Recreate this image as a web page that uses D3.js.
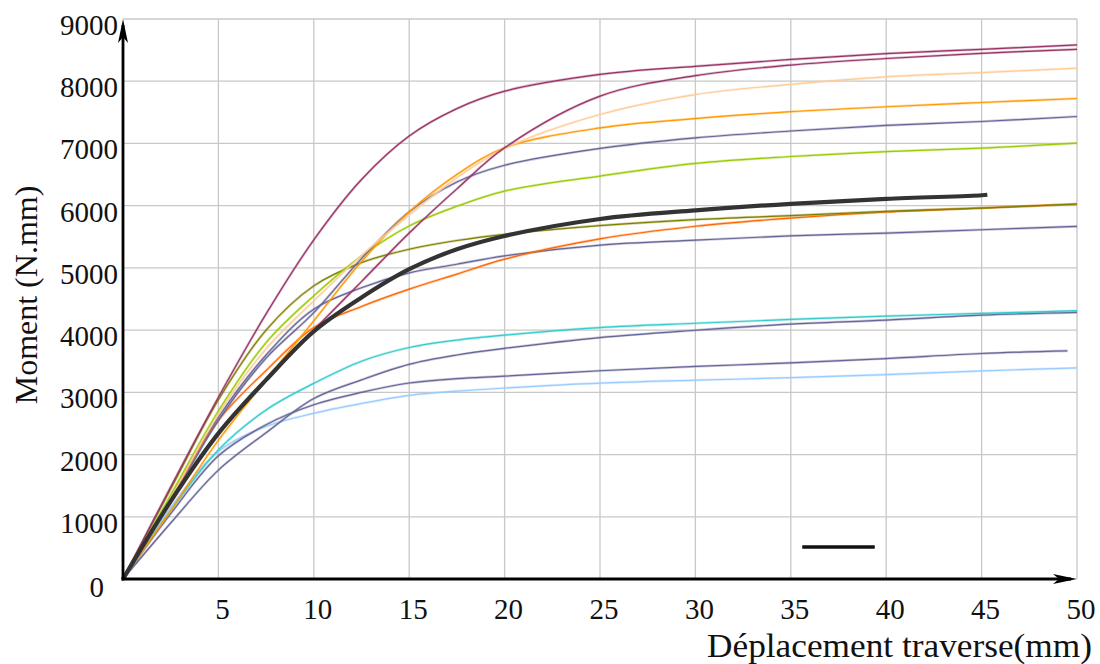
<!DOCTYPE html>
<html>
<head>
<meta charset="utf-8">
<script src="https://cdn.jsdelivr.net/npm/d3@7"></script>
<style>
  html, body { margin: 0; padding: 0; background: #fff; }
  svg { display: block; }
  text { font-family: "Liberation Serif", "DejaVu Serif", serif; fill: #111; }
</style>
</head>
<body>
<svg id="chart" width="1100" height="664"></svg>
<script>
// ---------- data ----------
const xTicks = [5, 10, 15, 20, 25, 30, 35, 40, 45, 50];
const yTicks = [0, 1000, 2000, 3000, 4000, 5000, 6000, 7000, 8000, 9000];
const xTitle = "Déplacement traverse(mm)";
const yTitle = "Moment (N.mm)";

const xs       = [0, 2.5, 5, 7.5, 10, 12.5, 15, 17.5, 20, 25, 30, 35, 40, 45, 50];
const xsMean   = [0, 2.5, 5, 7.5, 10, 12.5, 15, 17.5, 20, 25, 30, 35, 40, 45, 45.3];
const xsShort  = [0, 2.5, 5, 7.5, 10, 12.5, 15, 17.5, 20, 25, 30, 35, 40, 45, 49.5];

const magentaA  = [0, 1480, 2920, 4260, 5450, 6420, 7120, 7560, 7840, 8110, 8240, 8350, 8445, 8513, 8583];
const magentaB  = [0, 1250, 2350, 3200, 4000, 4780, 5560, 6270, 6930, 7760, 8090, 8260, 8365, 8449, 8513];
const peach     = [0, 1300, 2650, 3700, 4470, 5200, 5850, 6450, 6920, 7465, 7786, 7950, 8070, 8139, 8209];
const orange    = [0, 1100, 2230, 3200, 4150, 5100, 5900, 6500, 6930, 7250, 7400, 7510, 7590, 7658, 7722];
const slateE    = [0, 1250, 2550, 3550, 4280, 5150, 5900, 6380, 6650, 6920, 7090, 7200, 7290, 7353, 7433];
const yellowGr  = [0, 1350, 2700, 3800, 4550, 5190, 5674, 5990, 6235, 6476, 6679, 6790, 6870, 6925, 7005];
const olive     = [0, 1450, 2880, 4000, 4711, 5085, 5300, 5440, 5540, 5680, 5776, 5840, 5909, 5962, 6027];
const meanCurve = [0, 1250, 2340, 3200, 3980, 4524, 4979, 5299, 5513, 5786, 5925, 6030, 6108, 6167, 6176];
const orangeRed = [0, 1300, 2550, 3350, 4043, 4380, 4658, 4900, 5140, 5466, 5669, 5801, 5898, 5962, 6027];
const slateJ    = [0, 1300, 2600, 3600, 4337, 4680, 4920, 5059, 5193, 5365, 5445, 5516, 5559, 5613, 5667];
const cyan      = [0, 1100, 2075, 2717, 3144, 3500, 3720, 3840, 3920, 4041, 4110, 4172, 4226, 4269, 4312];
const slateL    = [0, 900, 1750, 2350, 2900, 3200, 3450, 3600, 3706, 3880, 3998, 4097, 4161, 4242, 4285];
const slateM    = [0, 1050, 1980, 2480, 2800, 3000, 3150, 3220, 3260, 3347, 3416, 3473, 3543, 3624, 3667];
const lightBlue = [0, 1150, 2050, 2450, 2663, 2820, 2950, 3020, 3070, 3149, 3195, 3235, 3285, 3344, 3392];

const legendX = [35.6, 39.4];
const legendY = 515;

// ---------- series table (built from arrays) ----------
const series = [
  { x: xs, y: lightBlue, color: "#99ccff" },
  { x: xsShort, y: slateM, color: "#666699" },
  { x: xs, y: slateL, color: "#666699" },
  { x: xs, y: cyan, color: "#33cccc" },
  { x: xs, y: slateJ, color: "#666699" },
  { x: xs, y: orangeRed, color: "#ff6600" },
  { x: xs, y: olive, color: "#808000" },
  { x: xs, y: yellowGr, color: "#99cc00" },
  { x: xs, y: slateE, color: "#666699" },
  { x: xs, y: orange, color: "#ff9900" },
  { x: xs, y: peach, color: "#ffcc99" },
  { x: xs, y: magentaB, color: "#993366" },
  { x: xs, y: magentaA, color: "#993366" }
];
const mean = { x: xsMean, y: meanCurve, color: "#333333" };

// ---------- drawing ----------
const svg = d3.select("#chart");
const x = d3.scaleLinear().domain([0, 50]).range([123, 1077]);
const y = d3.scaleLinear().domain([0, 9000]).range([579, 19]);

// grid
const grid = svg.append("g");
grid.selectAll("line.v").data(xTicks).enter().append("line")
  .attr("x1", d => x(d)).attr("x2", d => x(d))
  .attr("y1", y(0)).attr("y2", y(9000))
  .attr("stroke", "#c8c8c8").attr("stroke-width", 1.3);
grid.selectAll("line.h").data(yTicks.filter(d => d > 0)).enter().append("line")
  .attr("x1", x(0)).attr("x2", x(50))
  .attr("y1", d => y(d)).attr("y2", d => y(d))
  .attr("stroke", "#c8c8c8").attr("stroke-width", 1.3);

// lines
const line = d3.line().curve(d3.curveCatmullRom.alpha(0.5));
const toPts = s => s.x.map((v, i) => [x(v), y(s.y[i])]);
const lines = svg.append("g").attr("fill", "none");
series.forEach(s => {
  lines.append("path").attr("d", line(toPts(s)))
    .attr("stroke", s.color).attr("stroke-width", 2.6).attr("stroke-opacity", 0.35);
  lines.append("path").attr("d", line(toPts(s)))
    .attr("stroke", s.color).attr("stroke-width", 1.2);
});
lines.append("path").attr("d", line(toPts(mean)))
  .attr("stroke", mean.color).attr("stroke-width", 4.2).attr("stroke-linejoin", "round");

// legend sample
svg.append("line")
  .attr("x1", x(legendX[0])).attr("x2", x(legendX[1]))
  .attr("y1", y(legendY)).attr("y2", y(legendY))
  .attr("stroke", "#111").attr("stroke-width", 3.5);

// axes lines with arrowheads
const ax = svg.append("g");
ax.append("line").attr("x1", x(0)).attr("x2", x(0)).attr("y1", y(0) + 1.5).attr("y2", y(9000) + 6)
  .attr("stroke", "#000").attr("stroke-width", 2.8);
ax.append("line").attr("x1", x(0) - 1.5).attr("x2", x(50) - 6).attr("y1", y(0)).attr("y2", y(0))
  .attr("stroke", "#000").attr("stroke-width", 2.8);
const tipY = [x(0), y(9000)];
ax.append("path")
  .attr("d", `M${tipY[0]},${tipY[1]} L${tipY[0] + 5},${tipY[1] + 24} L${tipY[0]},${tipY[1] + 18} L${tipY[0] - 5},${tipY[1] + 24} Z`)
  .attr("fill", "#000");
const tipX = [x(50), y(0)];
ax.append("path")
  .attr("d", `M${tipX[0]},${tipX[1]} L${tipX[0] - 24},${tipX[1] - 5} L${tipX[0] - 18},${tipX[1]} L${tipX[0] - 24},${tipX[1] + 5} Z`)
  .attr("fill", "#000");

// tick labels
svg.append("g").selectAll("text").data(yTicks).enter().append("text")
  .attr("x", d => d === 0 ? 104 : 118)
  .attr("y", d => y(d) + (d === 0 ? 18 : 16))
  .attr("text-anchor", "end")
  .attr("font-size", 29)
  .text(d => d);
svg.append("g").selectAll("text").data(xTicks).enter().append("text")
  .attr("x", d => x(d) + 4)
  .attr("y", 619)
  .attr("text-anchor", "middle")
  .attr("font-size", 29)
  .text(d => d);

// titles
svg.append("text")
  .attr("x", 707).attr("y", 657)
  .attr("font-size", 33)
  .attr("textLength", 385).attr("lengthAdjust", "spacingAndGlyphs")
  .text(xTitle);
svg.append("text")
  .attr("transform", "translate(37,295) rotate(-90)")
  .attr("text-anchor", "middle")
  .attr("font-size", 32)
  .text(yTitle);
</script>
</body>
</html>
